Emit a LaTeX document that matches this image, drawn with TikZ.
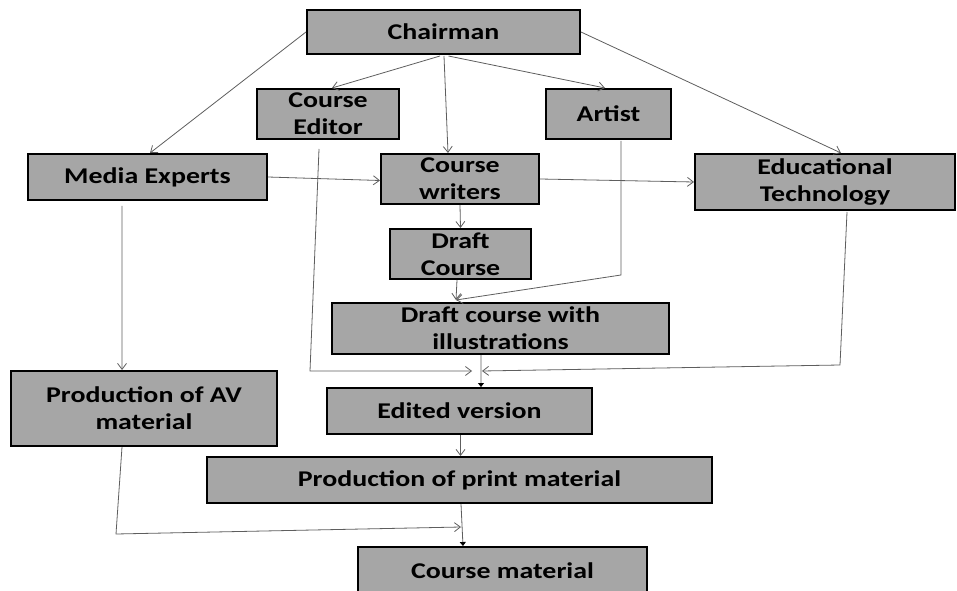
\documentclass[tikz,border=0pt]{standalone}
\usepackage{fontspec}
\setmainfont{Carlito}[FakeStretch=1.24]
\usetikzlibrary{arrows.meta}
\definecolor{boxfill}{HTML}{A6A6A6}
\definecolor{linkgray}{HTML}{5E5E5E}
\begin{document}
\begin{tikzpicture}[x=1bp,y=-1bp,
  box/.style={draw=black, line width=2bp, fill=boxfill, inner sep=0pt,
    align=center, font=\fontsize{22.5bp}{27bp}\selectfont\bfseries},
  conn/.style={draw=linkgray, line width=0.8bp,
    -{Straight Barb[length=6bp,width=9bp]}},
  connfill/.style={draw=linkgray, line width=0.8bp,
    -{Triangle[length=4bp,width=6bp,color=black]}}]
\useasboundingbox (0,0) rectangle (957,591);

% boxes
\node[box, minimum width=273bp, minimum height=44bp] (chair) at (443.5,32) {Chairman};
\node[box, minimum width=142bp, minimum height=50bp] (editor) at (328,114) {Course\\Editor};
\node[box, minimum width=125bp, minimum height=50bp] (artist) at (608.5,114) {Artist};
\node[box, minimum width=239bp, minimum height=46bp] (media) at (147.5,177) {Media Experts};
\node[box, minimum width=158bp, minimum height=50bp] (writers) at (460,179) {Course\\writers};
\node[box, minimum width=260bp, minimum height=56bp] (edtech) at (825,182) {Educational\\Technology};
\node[box, minimum width=141bp, minimum height=50bp] (draft) at (460.5,254) {Draft\\Course};
\node[box, minimum width=337bp, minimum height=51bp] (illus) at (500.5,328.5) {Draft course with\\illustrations};
\node[box, minimum width=266bp, minimum height=75bp] (av) at (144,408.5) {Production of AV\\material};
\node[box, minimum width=265bp, minimum height=46bp] (edited) at (459.5,411) {Edited version};
\node[box, minimum width=505bp, minimum height=46bp] (print) at (459.5,480) {Production of print material};
\node[box, minimum width=289bp, minimum height=48bp] (material) at (502.5,571) {Course material};

% bend and join points
\coordinate (illjoin) at (456,300);
\coordinate (artbend) at (621,275);
\coordinate (edbend) at (310,371);
\coordinate (edjoinL) at (472,371);
\coordinate (techbend) at (840,365);
\coordinate (edjoinR) at (482,371);
\coordinate (avbend) at (116,534);
\coordinate (avjoin) at (461,527);

% from the chairman
\draw[conn] (chair.west) -- ([xshift=2.5bp]media.north);
\draw[conn] ([xshift=-3.5bp,yshift=-1bp]chair.south) -- ([xshift=4bp]editor.north);
\draw[conn] ([xshift=0.5bp,yshift=-1bp]chair.south) -- ([xshift=-12bp]writers.north);
\draw[conn] ([xshift=5bp,yshift=-1bp]chair.south) -- ([xshift=-3.5bp]artist.north);
\draw[conn] (chair.east) -- ([xshift=16bp]edtech.north);

% second row
\draw[conn] (media.east) -- ([yshift=-1.5bp]writers.west);
\draw[conn] (writers.east) -- (edtech.west);
\draw[conn] (writers.south) -- (draft.north);
\draw[conn] ([xshift=-3.5bp]draft.south) -- (illjoin);
\draw[conn] ([xshift=12.5bp,yshift=-1bp]artist.south) -- (artbend) -- (illjoin);

% towards the edited version
\draw[conn] ([xshift=-9bp,yshift=-9bp]editor.south) -- (edbend) -- (edjoinL);
\draw[conn] ([xshift=22bp,yshift=-1bp]edtech.south) -- (techbend) -- (edjoinR);
\draw[connfill] ([xshift=-19.5bp]illus.south) -- ([xshift=21.5bp]edited.north);

% production
\draw[conn] ([xshift=-25.5bp,yshift=-5bp]media.south) -- ([xshift=-22bp]av.north);
\draw[conn] ([xshift=1bp]edited.south) -- ([xshift=1bp]print.north);
\draw[connfill] ([xshift=1.5bp]print.south) -- ([xshift=-39.5bp]material.north);
\draw[conn] ([xshift=-22bp]av.south) -- (avbend) -- (avjoin);
\end{tikzpicture}
\end{document}
